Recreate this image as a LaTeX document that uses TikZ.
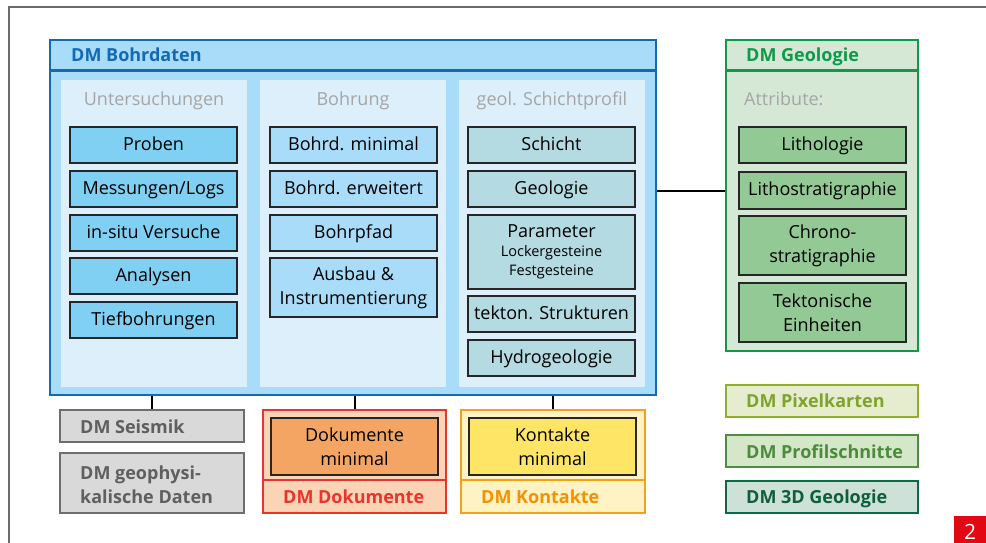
\documentclass[tikz,border=0pt]{standalone}
\usepackage{fontspec}
\setmainfont{Open Sans}
\definecolor{framec}{HTML}{6A6A6A}
\definecolor{bdblue}{HTML}{1369B4}
\definecolor{bdfill}{HTML}{A9DCF8}
\definecolor{panelc}{HTML}{DCEFFA}
\definecolor{cone}{HTML}{7FD0F3}
\definecolor{ctwo}{HTML}{A9DCF8}
\definecolor{cthree}{HTML}{B5DBE2}
\definecolor{titlegray}{HTML}{A5A5A5}
\definecolor{geogreen}{HTML}{0E9A48}
\definecolor{geofill}{HTML}{D5E8D6}
\definecolor{gfill}{HTML}{92C994}
\definecolor{seisborder}{HTML}{6E6E6E}
\definecolor{seisfill}{HTML}{D9D9D9}
\definecolor{seistext}{HTML}{5F5F5F}
\definecolor{dokred}{HTML}{E8352B}
\definecolor{dokfill}{HTML}{FBD4B5}
\definecolor{dokinner}{HTML}{F4A563}
\definecolor{konorange}{HTML}{F6A01A}
\definecolor{konfill}{HTML}{FFF3C4}
\definecolor{koninner}{HTML}{FFE566}
\definecolor{kontext}{HTML}{F39200}
\definecolor{pixborder}{HTML}{8FAE2B}
\definecolor{pixfill}{HTML}{E6EDCF}
\definecolor{pixtext}{HTML}{7FA32C}
\definecolor{profborder}{HTML}{4E8D3E}
\definecolor{proffill}{HTML}{D5E7C9}
\definecolor{proftext}{HTML}{4B8B3B}
\definecolor{tdborder}{HTML}{0E6A45}
\definecolor{tdfill}{HTML}{CDE1D8}
\definecolor{tdtext}{HTML}{0E5E3C}
\definecolor{pgred}{HTML}{E30613}
\newcommand\mybox[7]{\node[#2,minimum width={(#5-#3)*1pt},minimum height={(#6-#4)*1pt}] (#1) at ({(#3+#5)/2},{(#4+#6)/2}) {#7};}
\tikzset{
  outer/.style={line width=2.5pt, inner sep=0pt},
  panel/.style={fill=panelc, inner sep=0pt},
  hdr/.style={font=\bfseries\fontsize{18}{24}\selectfont, inner sep=0pt, anchor=base west, align=left},
  ctitle/.style={text=titlegray, font=\fontsize{18}{22}\selectfont, inner sep=0pt, anchor=base},
  ibox/.style={draw=black!85, line width=1.6pt, inner sep=0pt, align=center, font=\fontsize{18}{24}\selectfont},
  one/.style={text height=14pt, text depth=3.5pt},
  conn/.style={draw=black, line width=2pt},
}
\begin{document}
\begin{tikzpicture}[x=1pt,y=-1pt]
\useasboundingbox (0,0) rectangle (986,543);
\fill[white] (0,0) rectangle (986,543);
\draw[framec, line width=1.3pt] (9,543) -- (9,7) -- (986,7);

% DM Bohrdaten
\mybox{bd}{outer, draw=bdblue, fill=bdfill}{50}{40}{656}{395}{}
\draw[bdblue, line width=2.5pt] ([yshift=-32pt]bd.north west) -- ([yshift=-32pt]bd.north east);
\node[hdr, text=bdblue] (bdt) at (71,62) {DM Bohrdaten};
\mybox{pa}{panel}{61}{80}{247}{387}{}
\mybox{pb}{panel}{260}{80}{446}{387}{}
\mybox{pc}{panel}{459}{80}{645}{387}{}
\node[ctitle] (ta) at (pa.north |- 0,106) {Untersuchungen};
\node[ctitle] (tb) at (pb.north |- 0,106) {Bohrung};
\node[ctitle] (tc) at (pc.north |- 0,106) {geol. Schichtprofil};

\mybox{ua}{ibox, one, fill=cone}{70}{127}{237}{163}{Proben}
\mybox{ub}{ibox, one, fill=cone}{70}{171}{237}{207}{Messungen/Logs}
\mybox{uc}{ibox, one, fill=cone}{70}{215}{237}{251}{in-situ Versuche}
\mybox{ud}{ibox, one, fill=cone}{70}{258}{237}{294}{Analysen}
\mybox{ue}{ibox, one, fill=cone}{70}{302}{237}{338}{Tiefbohrungen}

\mybox{ba}{ibox, one, fill=ctwo}{270}{127}{437}{163}{Bohrd. minimal}
\mybox{bb}{ibox, one, fill=ctwo}{270}{171}{437}{207}{Bohrd. erweitert}
\mybox{bc}{ibox, one, fill=ctwo}{270}{215}{437}{251}{Bohrpfad}
\mybox{bdd}{ibox, fill=ctwo}{270}{258}{437}{317}{Ausbau \&\\Instrumentierung}

\mybox{sa}{ibox, one, fill=cthree}{468}{127}{635}{163}{Schicht}
\mybox{sb}{ibox, one, fill=cthree}{468}{171}{635}{207}{Geologie}
\mybox{sc}{ibox, fill=cthree, font=\fontsize{14.5}{19}\selectfont}{468}{215}{635}{289}{{\fontsize{18}{19}\selectfont Parameter}\\Lockergesteine\\Festgesteine}
\mybox{sd}{ibox, one, fill=cthree}{468}{296}{635}{332}{tekton. Strukturen}
\mybox{se}{ibox, one, fill=cthree}{468}{340}{635}{376}{Hydrogeologie}

% DM Geologie
\mybox{geo}{outer, draw=geogreen, fill=geofill}{726}{40}{918}{351}{}
\draw[geogreen, line width=2.5pt] ([yshift=-32pt]geo.north west) -- ([yshift=-32pt]geo.north east);
\node[hdr, text=geogreen] (geot) at (746,62) {DM Geologie};
\node[ctitle, anchor=base west] (attr) at (744,106) {Attribute:};
\mybox{gla}{ibox, one, fill=gfill}{739}{127}{906}{163}{Lithologie}
\mybox{glb}{ibox, one, fill=gfill}{739}{172}{906}{209}{Lithostratigraphie}
\mybox{glc}{ibox, fill=gfill}{739}{216}{906}{275}{Chrono-\\stratigraphie}
\mybox{gld}{ibox, fill=gfill}{739}{283}{906}{342}{Tektonische\\Einheiten}

\draw[conn] (bd.east |- glb) -- (geo.west |- glb);

% bottom left
\mybox{seis}{outer, draw=seisborder, fill=seisfill}{60}{410}{244}{442}{}
\node[hdr, text=seistext] (seist) at (80,433) {DM Seismik};
\mybox{gph}{outer, draw=seisborder, fill=seisfill}{60}{453}{244}{513}{}
\node[hdr, text=seistext] (gpht) at (80,503) {DM geophysi-\\kalische Daten};

\mybox{dok}{outer, draw=dokred, fill=dokfill}{263}{410}{446}{513}{}
\draw[dokred, line width=2.5pt] ([yshift=-71pt]dok.north west) -- ([yshift=-71pt]dok.north east);
\mybox{dokm}{ibox, fill=dokinner}{271}{418}{438}{475}{Dokumente\\minimal}
\node[hdr, text=dokred] (dokt) at (283,503) {DM Dokumente};

\mybox{kon}{outer, draw=konorange, fill=konfill}{461}{410}{645}{513}{}
\draw[konorange, line width=2.5pt] ([yshift=-71pt]kon.north west) -- ([yshift=-71pt]kon.north east);
\mybox{konm}{ibox, fill=koninner}{469}{418}{636}{475}{Kontakte\\minimal}
\node[hdr, text=kontext] (kont) at (481,503) {DM Kontakte};

\draw[conn] (seis.north) -- (seis.north |- bd.south);
\draw[conn] (dok.north) -- (dok.north |- bd.south);
\draw[conn] (kon.north) -- (kon.north |- bd.south);

% bottom right
\mybox{pix}{outer, draw=pixborder, fill=pixfill}{726}{385}{918}{417}{}
\node[hdr, text=pixtext] (pixt) at (746,407) {DM Pixelkarten};
\mybox{prof}{outer, draw=profborder, fill=proffill}{726}{435}{918}{467}{}
\node[hdr, text=proftext] (proft) at (746,458) {DM Profilschnitte};
\mybox{tdg}{outer, draw=tdborder, fill=tdfill}{726}{481}{918}{513}{}
\node[hdr, text=tdtext] (tdgt) at (746,503) {DM 3D Geologie};

\mybox{pg}{fill=pgred, text=white, inner sep=0pt, font=\fontsize{21}{24}\selectfont}{954}{516}{986}{548}{2}
\end{tikzpicture}
\end{document}
